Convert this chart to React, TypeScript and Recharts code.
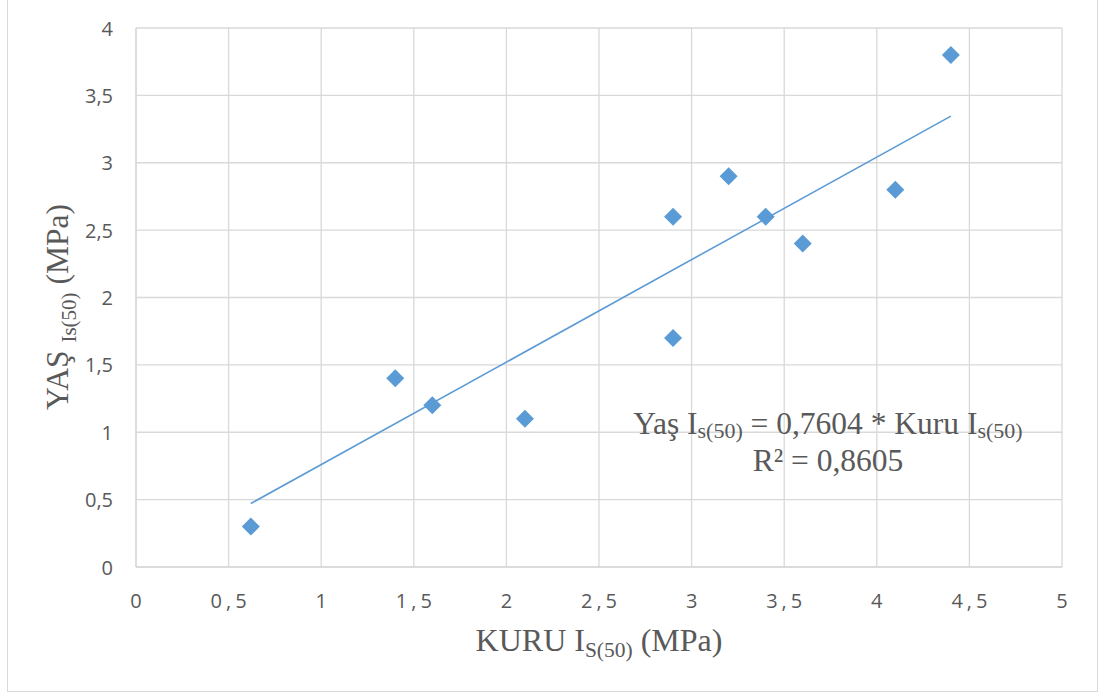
import React from 'react';
import { ScatterChart, Scatter, XAxis, YAxis, CartesianGrid } from 'recharts';

const xTicks = [0, 0.5, 1, 1.5, 2, 2.5, 3, 3.5, 4, 4.5, 5];
const yTicks = [0, 0.5, 1, 1.5, 2, 2.5, 3, 3.5, 4];

const kuruValues = [0.62, 1.4, 1.6, 2.1, 2.9, 2.9, 3.2, 3.4, 3.6, 4.1, 4.4];
const yasValues = [0.3, 1.4, 1.2, 1.1, 2.6, 1.7, 2.9, 2.6, 2.4, 2.8, 3.8];

const trendKuru = [0.62, 4.4];
const trendYas = [0.471, 3.346];

const points = kuruValues.map((x, i) => ({ x, y: yasValues[i] }));
const trend = trendKuru.map((x, i) => ({ x, y: trendYas[i] }));

const BLUE = '#5B9BD5';
const GRID = '#d9d9d9';
const TEXT = '#595959';
const TICK_FONT = '"Open Sans", sans-serif';
const SERIF = '"Liberation Serif", "Times New Roman", serif';

const fmt = (v: number) => String(v).replace('.', ',');

const Diamond = (props: any) => {
  const { cx, cy } = props;
  if (cx == null || cy == null) return <g />;
  const r = 9;
  return (
    <polygon
      points={`${cx},${cy - r} ${cx + r},${cy} ${cx},${cy + r} ${cx - r},${cy}`}
      fill={BLUE}
    />
  );
};

const NoShape = () => <g />;

const XTick = (props: any) => {
  const { x, y, payload } = props;
  return (
    <text
      x={x + 2}
      y={y}
      textAnchor="middle"
      dominantBaseline="central"
      fontFamily={TICK_FONT}
      fontSize={20}
      fill={TEXT}
      letterSpacing={4}
    >
      {fmt(payload.value)}
    </text>
  );
};

const YTick = (props: any) => {
  const { x, y, payload } = props;
  return (
    <text
      x={x}
      y={y}
      textAnchor="end"
      dominantBaseline="central"
      fontFamily={TICK_FONT}
      fontSize={20}
      fill={TEXT}
    >
      {fmt(payload.value)}
    </text>
  );
};

export default function App() {
  return (
    <div style={{ position: 'absolute', left: 0, top: 0, width: 1099, height: 693, background: '#fff' }}>
      <div
        style={{
          position: 'absolute',
          left: 7,
          top: -1,
          width: 1091,
          height: 693,
          border: `1px solid ${GRID}`,
          boxSizing: 'border-box',
        }}
      />
      <div style={{ position: 'absolute', left: 0, top: 0 }}>
        <ScatterChart width={1099} height={693} margin={{ top: 28, right: 37, bottom: 0, left: 0 }}>
          <CartesianGrid stroke={GRID} strokeWidth={1.3} horizontalValues={yTicks} verticalValues={xTicks} />
          <XAxis
            type="number"
            dataKey="x"
            domain={[0, 5]}
            ticks={xTicks}
            interval={0}
            height={126}
            tickSize={0}
            tickMargin={33}
            axisLine={{ stroke: GRID, strokeWidth: 1.3 }}
            tick={<XTick />}
          />
          <YAxis
            type="number"
            dataKey="y"
            domain={[0, 4]}
            ticks={yTicks}
            interval={0}
            width={136}
            tickSize={0}
            tickMargin={23}
            axisLine={{ stroke: GRID, strokeWidth: 1.3 }}
            tick={<YTick />}
          />
          <Scatter
            data={trend}
            line={{ stroke: BLUE, strokeWidth: 1.6 }}
            shape={<NoShape />}
            isAnimationActive={false}
          />
          <Scatter data={points} shape={<Diamond />} isAnimationActive={false} />
        </ScatterChart>
      </div>

      {/* X axis title */}
      <div
        style={{
          position: 'absolute',
          left: 599,
          top: 624,
          transform: 'translateX(-50%)',
          whiteSpace: 'nowrap',
          fontFamily: SERIF,
          fontSize: 32,
          lineHeight: 1,
          color: TEXT,
        }}
      >
        KURU I<span style={{ fontSize: 21.5, verticalAlign: '-6px', lineHeight: 0 }}>S(50)</span> (MPa)
      </div>

      {/* Y axis title */}
      <div
        style={{
          position: 'absolute',
          left: 57,
          top: 307,
          transform: 'translate(-50%, -50%) rotate(-90deg)',
          whiteSpace: 'nowrap',
          fontFamily: SERIF,
          fontSize: 31.5,
          lineHeight: '31px',
          color: TEXT,
        }}
      >
        YAŞ <span style={{ fontSize: 21, verticalAlign: '-8px', lineHeight: 0 }}>Is(50)</span> (MPa)
      </div>

      {/* Equation */}
      <div
        style={{
          position: 'absolute',
          left: 828,
          top: 405,
          transform: 'translateX(-50%)',
          whiteSpace: 'nowrap',
          textAlign: 'center',
          fontFamily: SERIF,
          fontSize: 31.5,
          lineHeight: '37px',
          color: TEXT,
        }}
      >
        <div>
          Yaş I<span style={{ fontSize: 22, verticalAlign: '-4px', lineHeight: 0 }}>s(50)</span> = 0,7604 * Kuru I
          <span style={{ fontSize: 22, verticalAlign: '-4px', lineHeight: 0 }}>s(50)</span>
        </div>
        <div>R² = 0,8605</div>
      </div>
    </div>
  );
}
